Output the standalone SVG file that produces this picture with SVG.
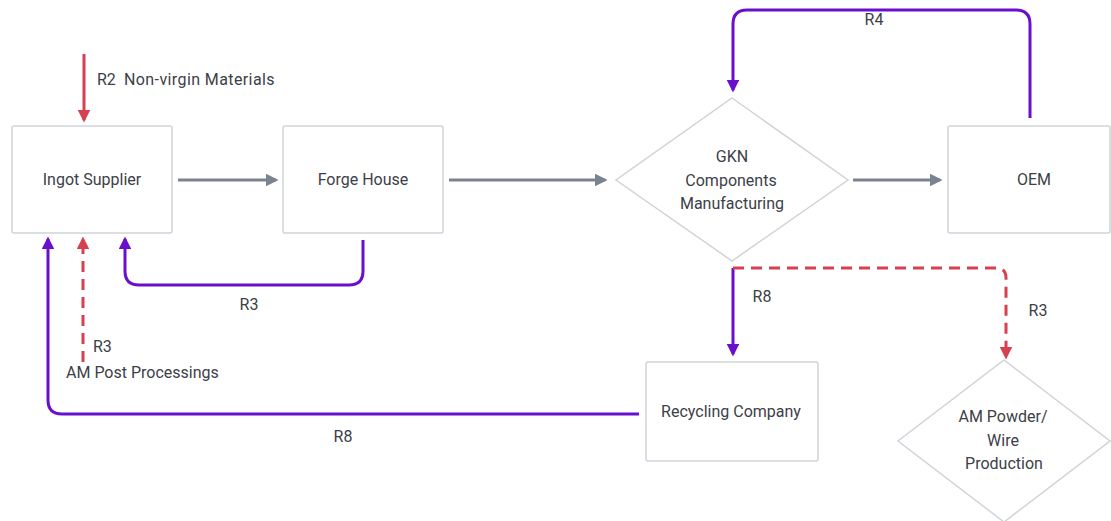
<svg xmlns="http://www.w3.org/2000/svg" width="1111" height="521" viewBox="0 0 1111 521">
  <style>
    .box { fill: #ffffff; stroke: #d0d4d9; stroke-width: 1.5; }
    .lbl { font-family: Roboto, "Liberation Sans", sans-serif; font-size: 16px; fill: #3c4048; text-anchor: middle; }
    .lbl-l { font-family: Roboto, "Liberation Sans", sans-serif; font-size: 16px; fill: #3c4048; }
    .flow { fill: none; stroke: #7a8490; stroke-width: 3; marker-end: url(#ah-gray); }
    .loop { fill: none; stroke: #6a0fcb; stroke-width: 3; marker-end: url(#ah-purple); }
    .red { fill: none; stroke: #d6404f; stroke-width: 3; marker-end: url(#ah-red); }
    .dash { stroke-dasharray: 11 7; }
  </style>
  <defs>
    <marker id="ah-gray" viewBox="0 0 10 10" refX="8" refY="5" markerWidth="4.3" markerHeight="4.3" orient="auto" markerUnits="strokeWidth">
      <path d="M0,0 L10,5 L0,10 z" fill="#7a8490"/>
    </marker>
    <marker id="ah-purple" viewBox="0 0 10 10" refX="8" refY="5" markerWidth="4.3" markerHeight="4.3" orient="auto" markerUnits="strokeWidth">
      <path d="M0,0 L10,5 L0,10 z" fill="#6a0fcb"/>
    </marker>
    <marker id="ah-red" viewBox="0 0 10 10" refX="8" refY="5" markerWidth="4.3" markerHeight="4.3" orient="auto" markerUnits="strokeWidth">
      <path d="M0,0 L10,5 L0,10 z" fill="#d6404f"/>
    </marker>
  </defs>
  <rect width="1111" height="521" fill="#ffffff"/>

  <g id="connectors">
    <!-- main process chain -->
    <path class="flow" d="M178,180 H276"/>
    <path class="flow" d="M449,180 H605"/>
    <path class="flow" d="M853,180 H940"/>
    <!-- R2 input -->
    <path class="red" d="M84,54 V120"/>
    <!-- R4: OEM back to GKN -->
    <path class="loop" d="M1030,118 V24 Q1030,10 1016,10 H747 Q733,10 733,24 V90"/>
    <!-- R3: Forge House back to Ingot Supplier -->
    <path class="loop" d="M363,240 V271 Q363,285 349,285 H139 Q125,285 125,271 V239"/>
    <!-- R3: AM post processing -->
    <path class="red dash" d="M83,362 V239"/>
    <!-- R8: Recycling Company back to Ingot Supplier -->
    <path class="loop" d="M639,414 H62 Q48,414 48,400 V239"/>
    <!-- R8: GKN to Recycling Company -->
    <path class="loop" d="M733,268 V354"/>
    <!-- R3: GKN to AM Powder/Wire -->
    <path class="red dash" d="M733,268 H996 Q1006,268 1006,278 V357"/>
  </g>

  <g id="edge-labels">
    <text class="lbl-l" x="97" y="85">R2</text>
    <text class="lbl-l" x="124" y="85" letter-spacing="0.4">Non-virgin Materials</text>
    <text class="lbl" x="874" y="25">R4</text>
    <text class="lbl" x="249" y="310">R3</text>
    <text class="lbl-l" x="93" y="352">R3</text>
    <text class="lbl-l" x="66" y="378">AM Post Processings</text>
    <text class="lbl" x="343" y="442">R8</text>
    <text class="lbl" x="762" y="302">R8</text>
    <text class="lbl" x="1038" y="316">R3</text>
  </g>

  <g id="ingot-supplier">
    <rect class="box" x="12" y="126" width="160" height="107" rx="2"/>
    <text class="lbl" x="92" y="185">Ingot Supplier</text>
  </g>
  <g id="forge-house">
    <rect class="box" x="283" y="126" width="160" height="107" rx="2"/>
    <text class="lbl" x="363" y="185">Forge House</text>
  </g>
  <g id="gkn">
    <polygon class="box" points="732,98 848,180 732,261 616,180"/>
    <text class="lbl" x="732" y="162">GKN</text>
    <text class="lbl" x="731" y="186">Components</text>
    <text class="lbl" x="732" y="209">Manufacturing</text>
  </g>
  <g id="oem">
    <rect class="box" x="948" y="126" width="162" height="107" rx="2"/>
    <text class="lbl" x="1034" y="185">OEM</text>
  </g>
  <g id="recycling-company">
    <rect class="box" x="646" y="362" width="172" height="99" rx="2"/>
    <text class="lbl" x="731" y="417">Recycling Company</text>
  </g>
  <g id="am-powder">
    <polygon class="box" points="1004,360 1110,441 1004,522 898,441"/>
    <text class="lbl" x="1003" y="422">AM Powder/</text>
    <text class="lbl" x="1003" y="446">Wire</text>
    <text class="lbl" x="1004" y="469">Production</text>
  </g>
</svg>
